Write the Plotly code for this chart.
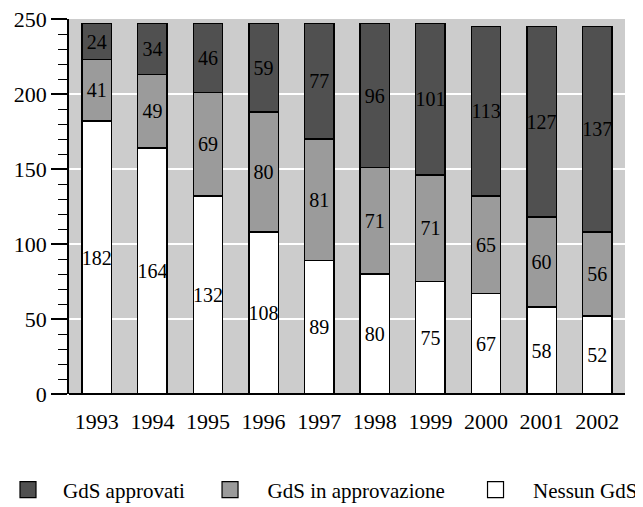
import plotly.graph_objects as go

years = ["1993", "1994", "1995", "1996", "1997", "1998", "1999", "2000", "2001", "2002"]
nessun = [182, 164, 132, 108, 89, 80, 75, 67, 58, 52]
in_approvazione = [41, 49, 69, 80, 81, 71, 71, 65, 60, 56]
approvati = [24, 34, 46, 59, 77, 96, 101, 113, 127, 137]

series = [
    ("Nessun GdS", nessun, "#ffffff"),
    ("GdS in approvazione", in_approvazione, "#9b9b9b"),
    ("GdS approvati", approvati, "#505050"),
]

font_family = "Liberation Serif"

fig = go.Figure()
for name, vals, color in series:
    fig.add_trace(
        go.Bar(
            x=years,
            y=vals,
            name=name,
            showlegend=False,
            text=[str(v) for v in vals],
            textposition="inside",
            insidetextanchor="middle",
            textangle=0,
            constraintext="none",
            textfont=dict(size=20, color="black", family=font_family),
            marker=dict(color=color, line=dict(color="black", width=1.3)),
        )
    )

# legend swatches, one legend per entry so they can be spaced like the original
legend_names = ["legend", "legend2", "legend3"]
for (name, vals, color), lg in zip(reversed(series), legend_names):
    fig.add_trace(
        go.Scatter(
            x=[None],
            y=[None],
            mode="markers",
            name=name,
            legend=lg,
            marker=dict(symbol="square", size=26, color=color, line=dict(color="black", width=1.2)),
        )
    )

legend_style = dict(
    orientation="h",
    xref="container",
    yref="container",
    xanchor="left",
    y=0.034,
    yanchor="middle",
    font=dict(size=21, family=font_family),
    itemsizing="trace",
    itemwidth=65,
    bgcolor="rgba(0,0,0,0)",
)

fig.update_layout(
    barmode="stack",
    bargap=0.47,
    width=635,
    height=499,
    paper_bgcolor="white",
    plot_bgcolor="#cccccc",
    font=dict(family=font_family, size=22, color="black"),
    margin=dict(l=61, r=18, t=11, b=113),
    showlegend=True,
    legend=dict(legend_style, x=0.0, itemwidth=60, indentation=-15),
    legend2=dict(legend_style, x=0.2906),
    legend3=dict(legend_style, x=0.7087),
    xaxis=dict(
        showgrid=False,
        ticks="",
        showline=False,
        zeroline=False,
        automargin=False,
        ticklabelstandoff=12,
        tickfont=dict(size=22),
    ),
    yaxis=dict(
        range=[0, 250],
        dtick=50,
        automargin=False,
        ticklabeloverflow="allow",
        showgrid=True,
        gridcolor="white",
        gridwidth=2,
        zeroline=True,
        zerolinecolor="black",
        zerolinewidth=1.5,
        showline=True,
        linecolor="black",
        linewidth=1.5,
        ticks="outside",
        ticklen=16,
        tickwidth=1.5,
        tickcolor="black",
        tickfont=dict(size=22),
        minor=dict(dtick=10, ticks="outside", ticklen=9, tickcolor="black", tickwidth=1.2, showgrid=False),
    ),
)

fig.write_html("out.html")
